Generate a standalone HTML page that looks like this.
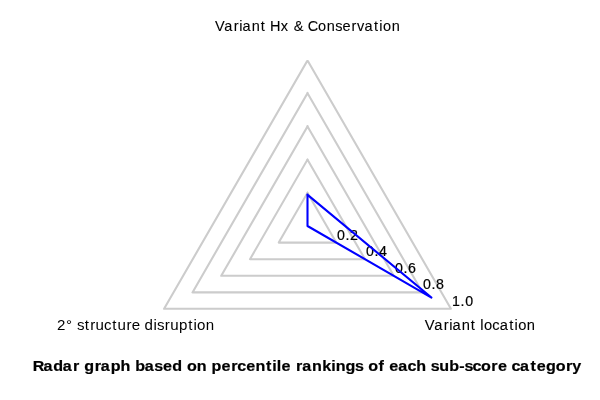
<!DOCTYPE html>
<html><head><meta charset="utf-8"><title>Radar</title>
<style>
html,body{margin:0;padding:0;background:#fff;}
body{width:600px;height:400px;overflow:hidden;}
svg{display:block;will-change:transform;}
.tx{filter:grayscale(1);}
text{font-family:"Liberation Sans",sans-serif;font-size:14.5px;fill:#000;white-space:pre;}
.g polyline{fill:none;stroke:#cccccc;stroke-width:2.08;stroke-linejoin:round;stroke-linecap:square;}
.b polyline{fill:none;stroke:#0000ff;stroke-width:2.08;stroke-linejoin:round;stroke-linecap:square;}
</style></head><body>
<svg width="600" height="400" viewBox="0 0 600 400">
<defs><clipPath id="c"><rect x="0" y="60" width="600" height="340"/></clipPath></defs>
<rect width="600" height="400" fill="#ffffff"/>
<g class="g">
<polyline points="307.50,192.80 278.75,242.60 336.25,242.60 307.50,192.80"/>
<polyline points="307.50,159.60 250.00,259.20 365.00,259.20 307.50,159.60"/>
<polyline points="307.50,126.40 221.24,275.80 393.76,275.80 307.50,126.40"/>
<polyline points="307.50,93.20 192.49,292.40 422.51,292.40 307.50,93.20"/>
<polyline clip-path="url(#c)" points="307.50,60.40 164.09,308.80 450.91,308.80 307.50,60.40"/>
</g>
<g class="tx">
<text transform="scale(1.0000,1.0400)" style="font-size:14.20px;stroke:#000;stroke-width:0.20px" x="336.97 345.48 349.91" y="230.77">0.2</text>
<text transform="scale(1.0000,1.0400)" style="font-size:14.20px;stroke:#000;stroke-width:0.20px" x="365.97 374.48 379.09" y="246.15">0.4</text>
<text transform="scale(1.0000,1.0400)" style="font-size:14.20px;stroke:#000;stroke-width:0.20px" x="394.97 403.48 408.09" y="262.50">0.6</text>
<text transform="scale(1.0000,1.0400)" style="font-size:14.20px;stroke:#000;stroke-width:0.20px" x="422.97 431.48 436.09" y="277.88">0.8</text>
<text transform="scale(1.0000,1.0400)" style="font-size:14.20px;stroke:#000;stroke-width:0.20px" x="451.90 460.60 465.22" y="294.23">1.0</text>
</g>
<g class="b">
<polyline points="307.50,194.79 307.50,226.00 431.42,297.55 307.50,194.79"/>
</g>
<g class="tx">
<text style="font-size:14.50px;stroke:#000;stroke-width:0.10px" x="214.91 224.19 233.82 239.18 242.44 251.76 260.78 265.61 269.97 280.81 288.61 293.65 303.73 307.64 318.08 326.76 335.20 342.50 351.44 356.97 364.44 374.03 379.18 382.95 391.63" y="31.00">Variant Hx &amp; Conservation</text>
<text transform="scale(1.0400,1.0000)" style="font-size:14.50px" x="54.75 63.57 69.86 74.01 81.48 86.78 91.90 100.03 108.04 112.94 121.75 126.57 134.64 138.98 147.63 151.06 158.53 163.66 172.18 181.00 185.97 189.50 197.85" y="330.00">2° structure disruption</text>
<text style="font-size:14.70px;stroke:#000;stroke-width:0.10px" x="424.84 434.13 443.78 449.16 452.38 461.70 470.75 475.61 480.28 484.02 492.34 499.63 509.25 514.41 518.15 526.83" y="330.00">Variant location</text>
<text transform="scale(1.0600,1.0000)" style="font-size:15.20px;font-weight:bold;stroke:#000;stroke-width:0.20px" x="30.81 40.96 50.22 59.24 68.93 75.00 79.59 89.33 95.09 104.48 113.68 123.00 127.71 136.60 145.62 153.80 162.60 171.93 176.39 185.64 194.93 199.64 208.99 218.22 223.72 232.22 241.07 250.89 256.75 261.11 265.47 274.29 279.31 285.07 294.37 303.92 312.41 316.66 325.93 335.01 343.04 347.50 357.08 362.38 367.13 375.63 384.33 392.69 402.00 406.35 414.40 423.82 433.21 438.19 445.65 453.87 463.51 469.72 478.54 482.56 490.61 500.42 506.28 515.08 524.27 533.91 539.96" y="371.00">Radar graph based on percentile rankings of each sub-score category</text>
</g>
</svg>
</body></html>
